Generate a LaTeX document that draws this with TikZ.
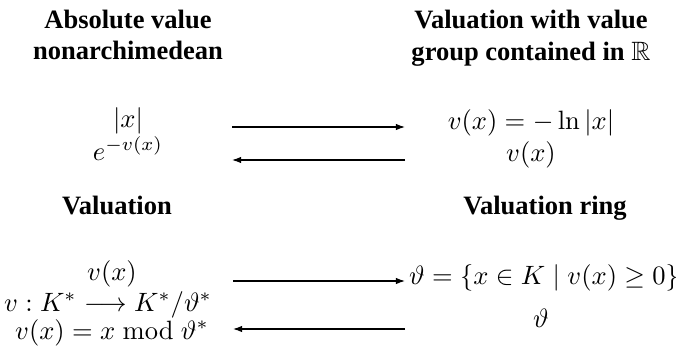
\documentclass[tikz,border=0pt]{standalone}
\usepackage{amssymb}
\usepackage[no-math]{fontspec}
\setmainfont{Liberation Serif}[BoldFont={Liberation Serif Bold}]
\usetikzlibrary{arrows.meta}

\begin{document}
\begin{tikzpicture}[x=0.377pt, y=-0.377pt, >={Latex[length=3.4pt,width=2.4pt]},
  head/.style={font=\rmfamily\bfseries, anchor=base, inner sep=0pt},
  term/.style={anchor=base, inner sep=0pt}]
  \useasboundingbox (0,0) rectangle (676,352);
  % headings
  \node[head] (absA) at (128,28) {Absolute value};
  \node[head] (absB) at (128,59) {nonarchimedean};
  \node[head] (valA) at (531,28) {Valuation with value};
  \node[head] (valB) at (531,60) {group contained in $\mathbb{R}$};
  \node[head] (valn) at (117,214) {Valuation};
  \node[head] (ring) at (545,214) {Valuation ring};

  % absolute value <-> real valuation
  \node[term] (absx) at (128,127) {$|x|$};
  \node[term] (expv) at (128,160) {$e^{-v(x)}$};
  \node[term] (lnx) at (531,129) {$v(x) = -\ln|x|$};
  \node[term] (vx) at (531,161) {$v(x)$};
  \coordinate (a1) at (232,127);
  \coordinate (b1) at (405,127);
  \coordinate (a2) at (232,160);
  \coordinate (b2) at (405,160);
  \draw[->] (a1) -- (b1);
  \draw[->] (b2) -- (a2);

  % valuation <-> valuation ring
  \node[term] (vxx) at (112,280) {$v(x)$};
  \node[term] (quot) at (108,311) {$v : K^* \longrightarrow K^*/\vartheta^*$};
  \node[term] (mod) at (112,339) {$v(x) = x \bmod \vartheta^*$};
  \node[term] (ringset) at (544,284) {$\vartheta = \{x \in K \mid v(x) \geq 0\}$};
  \node[term] (theta) at (541,327) {$\vartheta$};
  \coordinate (a3) at (233,281);
  \coordinate (b3) at (405,281);
  \coordinate (a4) at (233,329);
  \coordinate (b4) at (405,329);
  \draw[->] (a3) -- (b3);
  \draw[->] (b4) -- (a4);
\end{tikzpicture}
\end{document}
